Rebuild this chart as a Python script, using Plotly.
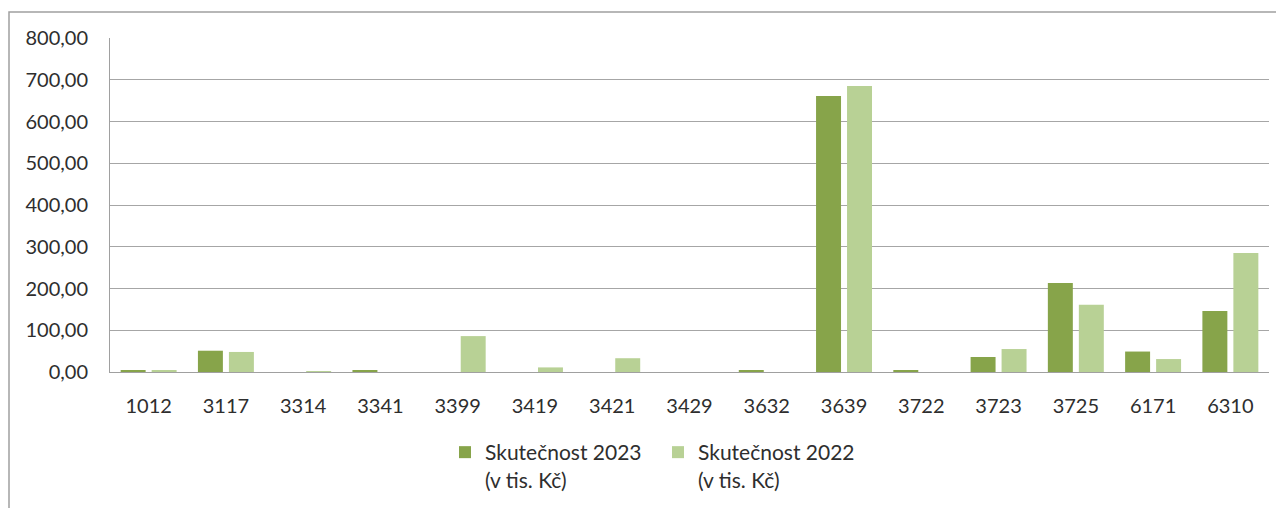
import plotly.graph_objects as go

categories = ["1012", "3117", "3314", "3341", "3399", "3419", "3421", "3429",
              "3632", "3639", "3722", "3723", "3725", "6171", "6310"]
values_2023 = [3, 51, 0, 3, 0, 0, 0, 0, 3, 661, 3, 36, 213, 49, 146]
values_2022 = [3, 48, 2, 0, 86, 11, 33, 0, 0, 685, 0, 55, 161, 31, 285]
series_names = ["Skutečnost 2023<br>(v tis. Kč)", "Skutečnost 2022<br>(v tis. Kč)"]
y_ticks = [0, 100, 200, 300, 400, 500, 600, 700, 800]

# page has an 8px body margin; figure is placed at (8, 8)
OFF = 8
W, H = 1284 - OFF, 508 - OFF
L, T = 110 - OFF, 38 - OFF
pw, ph = 1159, 334
R, B = W - L - pw, H - T - ph

fig = go.Figure()
fig.add_trace(go.Bar(x=categories, y=values_2023, name=series_names[0],
                     marker=dict(color="#87A44A", line=dict(width=0))))
fig.add_trace(go.Bar(x=categories, y=values_2022, name=series_names[1],
                     marker=dict(color="#B8D195", line=dict(width=0))))

font_family = "Lato, 'Noto Sans', sans-serif"
fig.update_layout(
    width=W, height=H,
    margin=dict(l=L, r=R, t=T, b=B, autoexpand=False),
    paper_bgcolor="white", plot_bgcolor="white",
    barmode="group", bargap=0.198, bargroupgap=0.194,
    separators=", ",
    font=dict(family=font_family, size=20, color="#2E2E2E"),
    showlegend=True,
    legend=dict(orientation="h", x=(445 - 110) / pw, xanchor="left",
                y=(372 - 432) / ph, yanchor="top", valign="top",
                font=dict(size=21, color="#2E2E2E"),
                itemwidth=30, tracegroupgap=0, entrywidthmode="pixels", entrywidth=168),
    xaxis=dict(showgrid=False, showline=True, linecolor="#A0A0A0", linewidth=1,
               ticks="", ticklabelstandoff=16, tickfont=dict(size=20)),
    yaxis=dict(range=[0, 800], tickvals=y_ticks, tickformat=".2f",
               showgrid=True, gridcolor="#A6A6A6", gridwidth=1,
               showline=True, linecolor="#A0A0A0", linewidth=1,
               zeroline=False, ticks="", ticklabelstandoff=17, tickfont=dict(size=20)),
    shapes=[dict(type="rect", xref="paper", yref="paper",
                 x0=(9 - 110) / pw, x1=(1300 - 110) / pw,
                 y0=(372 - 12) / ph, y1=-0.6,
                 line=dict(color="#A0A0A0", width=1.5), fillcolor="rgba(0,0,0,0)",
                 layer="below")],
)

fig.write_html("out.html")
